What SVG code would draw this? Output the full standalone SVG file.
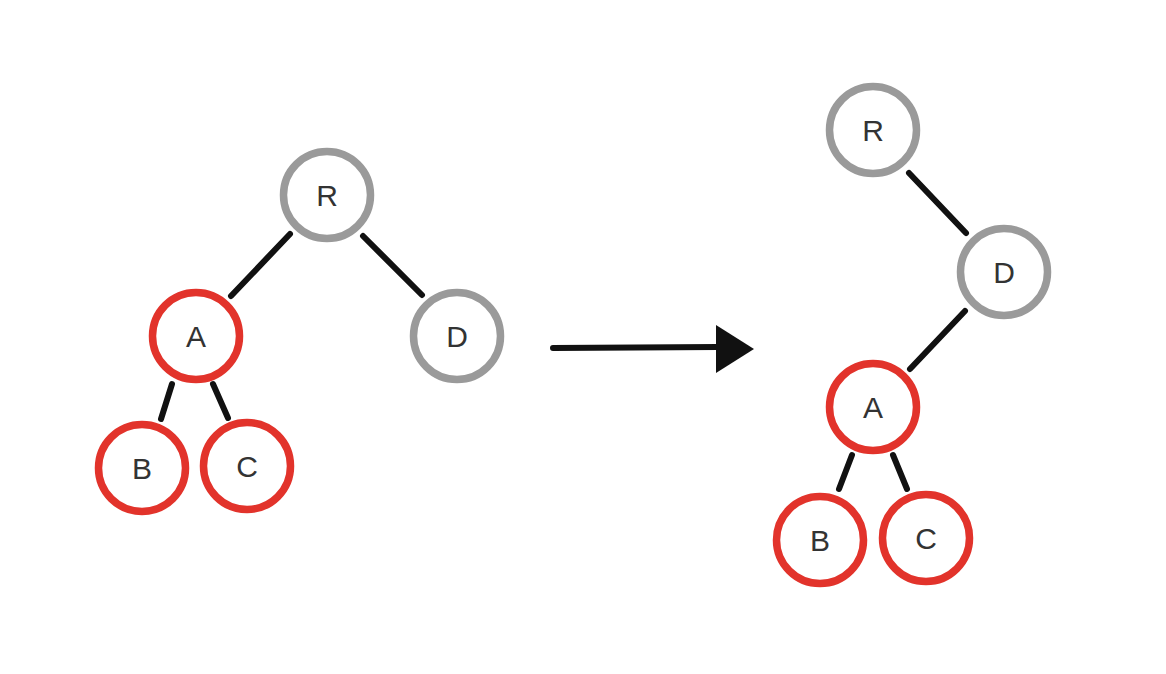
<svg xmlns="http://www.w3.org/2000/svg" width="1166" height="674" viewBox="0 0 1166 674">
<style>
.n circle{fill:#fff;stroke-width:7.5}
.red circle{stroke:#e2332b}
.gray circle{stroke:#9a9a9a}
.n text{font-family:"Liberation Sans",Arial,sans-serif;font-size:30px;fill:#333;text-anchor:middle;dominant-baseline:central}
.e line{stroke:#111;stroke-width:6;stroke-linecap:round}
</style>
<rect width="1166" height="674" fill="#fff"/>
<g id="edges" class="e">
<line x1="290" y1="234" x2="231" y2="296"/>
<line x1="363" y1="236" x2="422" y2="295"/>
<line x1="172" y1="384" x2="161" y2="419"/>
<line x1="213" y1="384" x2="228" y2="418"/>
<line x1="909" y1="173" x2="966" y2="233"/>
<line x1="965" y1="311" x2="910" y2="369"/>
<line x1="852" y1="455" x2="839" y2="489"/>
<line x1="893" y1="455" x2="907" y2="489"/>
<line x1="553" y1="348" x2="718" y2="347"/>
<polygon points="716,325 754,349 716,373" fill="#111"/>
</g>
<g id="L_R" class="n gray"><circle cx="327" cy="195" r="43.5"/><text x="327" y="195">R</text></g>
<g id="L_A" class="n red"><circle cx="196" cy="336" r="43.5"/><text x="196" y="336">A</text></g>
<g id="L_D" class="n gray"><circle cx="457" cy="336" r="43.5"/><text x="457" y="336">D</text></g>
<g id="L_B" class="n red"><circle cx="142" cy="468" r="43.5"/><text x="142" y="468">B</text></g>
<g id="L_C" class="n red"><circle cx="247" cy="466" r="43.5"/><text x="247" y="466">C</text></g>
<g id="R_R" class="n gray"><circle cx="873" cy="130" r="43.5"/><text x="873" y="130">R</text></g>
<g id="R_D" class="n gray"><circle cx="1004" cy="272" r="43.5"/><text x="1004" y="272">D</text></g>
<g id="R_A" class="n red"><circle cx="873" cy="407" r="43.5"/><text x="873" y="407">A</text></g>
<g id="R_B" class="n red"><circle cx="820" cy="540" r="43.5"/><text x="820" y="540">B</text></g>
<g id="R_C" class="n red"><circle cx="926" cy="538" r="43.5"/><text x="926" y="538">C</text></g>
</svg>
